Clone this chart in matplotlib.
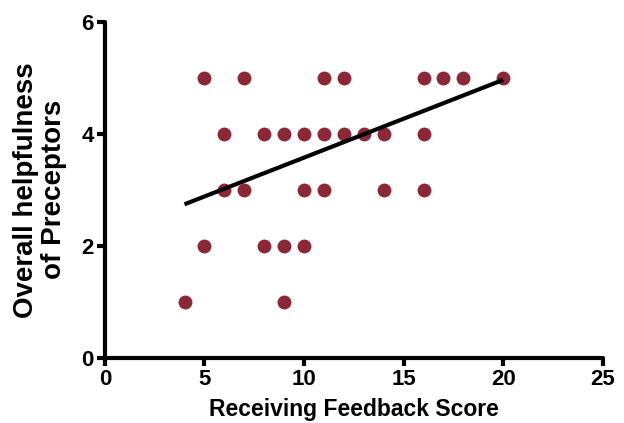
import matplotlib

matplotlib.use("Agg")
import matplotlib.pyplot as plt

plt.rcParams["font.family"] = ["Liberation Sans", "DejaVu Sans"]
plt.rcParams["font.weight"] = "bold"

# Receiving Feedback Score vs. overall helpfulness rating
feedback_score = [4, 5, 5, 6, 6, 7, 7, 8, 8, 9, 9, 9, 10, 10, 10,
                  11, 11, 11, 12, 12, 13, 14, 14, 16, 16, 16, 17, 18, 20]
helpfulness = [1, 5, 2, 4, 3, 5, 3, 4, 2, 4, 2, 1, 4, 3, 2,
               5, 4, 3, 5, 4, 4, 4, 3, 5, 4, 3, 5, 5, 5]

# regression line end points
fit_x = [4, 20]
fit_y = [2.74, 4.96]

x_ticks = [0, 5, 10, 15, 20, 25]
y_ticks = [0, 2, 4, 6]

fig = plt.figure(figsize=(6.24, 4.23), dpi=100)
ax = fig.add_axes([0.168, 0.154, 0.798, 0.795])

ax.plot(feedback_score, helpfulness, "o", color="#8b2838", markersize=10,
        markeredgewidth=0, zorder=2)
ax.plot(fit_x, fit_y, color="black", linewidth=3, solid_capstyle="butt", zorder=3)

ax.set_xlim(0, 25)
ax.set_ylim(0, 6)
ax.set_xticks(x_ticks)
ax.set_yticks(y_ticks)

for side in ["top", "right"]:
    ax.spines[side].set_visible(False)
for side in ["left", "bottom"]:
    ax.spines[side].set_linewidth(3)
    ax.spines[side].set_capstyle("round")
ax.tick_params(width=3, length=6, labelsize=16, pad=2)
for lab in ax.get_xticklabels() + ax.get_yticklabels():
    lab.set_fontweight("bold")

ax.set_xlabel("Receiving Feedback Score", fontsize=16.5, fontweight="bold", labelpad=6)
ax.set_ylabel("Overall helpfulness\nof Preceptors", fontsize=20, fontweight="bold",
              labelpad=10, linespacing=1.1)

fig.savefig("out.png", dpi=100)
